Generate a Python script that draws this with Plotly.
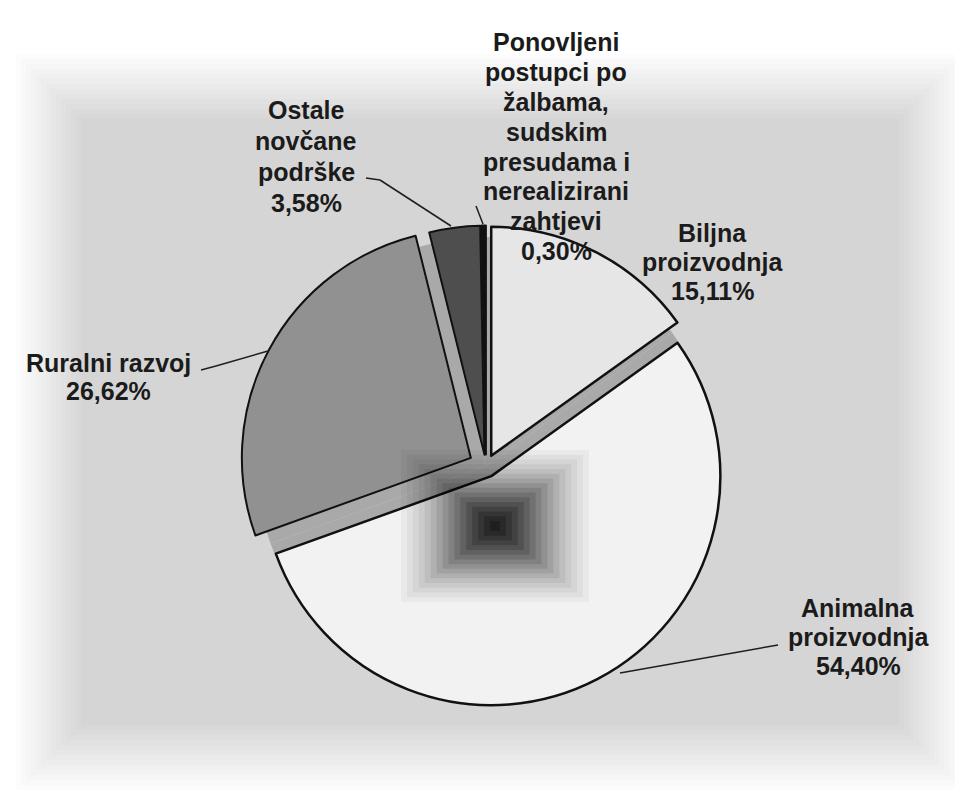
import plotly.graph_objects as go

# ---------------- data ----------------
categories = [
    "Biljna proizvodnja",
    "Animalna proizvodnja",
    "Ruralni razvoj",
    "Ostale novčane podrške",
    "Ponovljeni postupci po žalbama, sudskim presudama i nerealizirani zahtjevi",
]
values = [15.11, 54.40, 26.62, 3.58, 0.30]
label_lines = [
    ["Biljna", "proizvodnja"],
    ["Animalna", "proizvodnja"],
    ["Ruralni razvoj"],
    ["Ostale", "novčane", "podrške"],
    ["Ponovljeni", "postupci po", "žalbama,", "sudskim", "presudama i", "nerealizirani", "zahtjevi"],
]
slice_colors = ["#e6e6e6", "#f2f2f2", "#919191", "#4e4e4e", "#111111"]
pulls = [0.05, 0.05, 0.075, 0.05, 0.05]

# ---------------- layout helpers ----------------
W, H = 963, 805
def fx(x):
    return x / W
def fy(y):
    return 1 - y / H

cx, cy, r = 478, 458, 229          # pie centre / radius in px
maxpull = max(pulls)
half = r * (1 + maxpull)

fig = go.Figure()

# grey under-pie (fills the gaps between exploded slices)
fig.add_trace(go.Pie(
    labels=categories, values=values, sort=False, direction="clockwise",
    rotation=0, textinfo="none", hoverinfo="skip", showlegend=False,
    marker=dict(colors=["#a9a9a9"] * len(values), line=dict(width=0)),
    domain=dict(x=[fx(cx - r), fx(cx + r)], y=[fy(cy + r), fy(cy - r)]),
))

# main exploded pie
fig.add_trace(go.Pie(
    labels=categories, values=values, sort=False, direction="clockwise",
    rotation=0, pull=pulls, textinfo="none", hoverinfo="label+percent",
    showlegend=False,
    marker=dict(colors=slice_colors,
                line=dict(color="#111111", width=[2.5, 2.5, 2, 2, 2])),
    domain=dict(x=[fx(cx - half), fx(cx + half)], y=[fy(cy + half), fy(cy - half)]),
))

shapes = []
# scanned-page grey background: soft fade built from many thin layers
n_bg = 14
for i in range(n_bg):
    inset = i * 5
    x0, y0, x1, y1 = 8 + inset, 46 + inset, 956 - inset, 782 - inset
    shapes.append(dict(type="rect", xref="paper", yref="paper", layer="below",
                       x0=fx(x0), x1=fx(x1), y0=fy(y1), y1=fy(y0),
                       fillcolor="black", opacity=0.0105, line=dict(width=0)))

# dark centre-gradient patch inside "Animalna" slice
pcx, pcy = 487, 518
n_p = 16
for i in range(n_p):
    t = i / (n_p - 1)
    hw = 94 - t * (94 - 5)
    hh = 76 - t * (76 - 5)
    op = 0.035 + 0.2 * t ** 1.6
    shapes.append(dict(type="rect", xref="paper", yref="paper", layer="above",
                       x0=fx(pcx - hw), x1=fx(pcx + hw), y0=fy(pcy + hh), y1=fy(pcy - hh),
                       fillcolor="black", opacity=op, line=dict(width=0)))

# leader lines
leaders = [
    [(770, 637), (612, 665)],                 # Animalna
    [(193, 362), (208, 358), (260, 343)],     # Ruralni
    [(358, 170), (372, 172), (443, 218)],     # Ostale
    [(468, 198), (475, 216)],                 # Ponovljeni
]
for pts in leaders:
    for (a, b) in zip(pts[:-1], pts[1:]):
        shapes.append(dict(type="line", xref="paper", yref="paper", layer="above",
                           x0=fx(a[0]), y0=fy(a[1]), x1=fx(b[0]), y1=fy(b[1]),
                           line=dict(color="#1e1e1e", width=1.5)))

# labels (centre x, first-line centre y, line step)
label_pos = [(704, 225, 29), (850, 600, 29), (100, 355, 28), (298, 102, 31), (548, 34, 29.9)]
annotations = []
for lines, v, (lx, ly, step) in zip(label_lines, values, label_pos):
    all_lines = lines + [f"{v:.2f}".replace(".", ",") + "%"]
    for i, t in enumerate(all_lines):
        annotations.append(dict(
            x=fx(lx), y=fy(ly + i * step), xref="paper", yref="paper",
            xanchor="center", yanchor="middle", showarrow=False,
            text=f"<b>{t}</b>",
            font=dict(family="Liberation Sans, Arial, sans-serif", size=25, color="#1b1b1b"),
        ))

fig.update_layout(
    width=W, height=H, margin=dict(l=0, r=0, t=0, b=0),
    paper_bgcolor="white", plot_bgcolor="white",
    shapes=shapes, annotations=annotations,
)

fig.write_html("out.html")
